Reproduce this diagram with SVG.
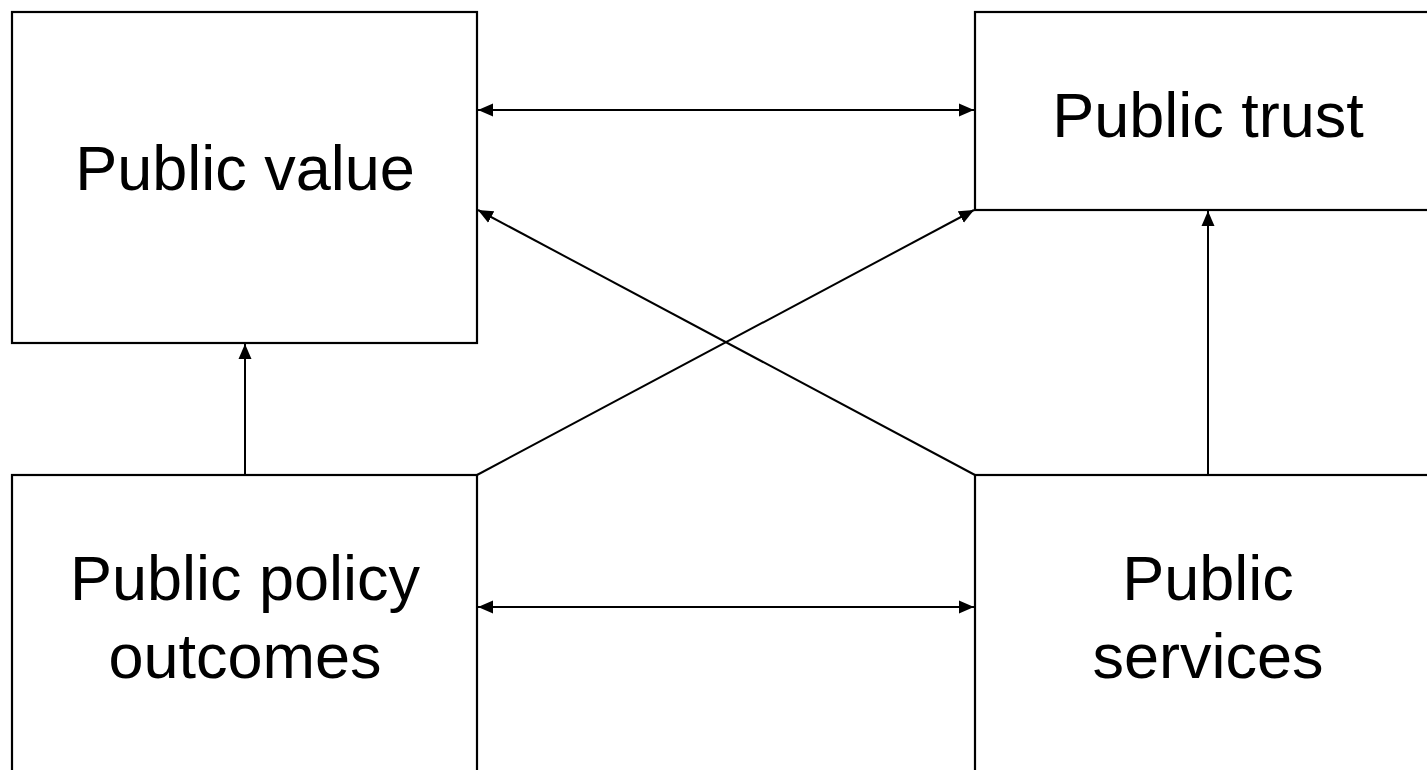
<svg xmlns="http://www.w3.org/2000/svg" width="1427" height="770" viewBox="0 0 1427 770">
<style>
.box{fill:#fff;stroke:#000;stroke-width:2.2}
.t{font-family:"Liberation Sans",Arial,sans-serif;font-size:63px;fill:#000;text-anchor:middle}
.c{stroke:#000;stroke-width:2;fill:none;marker-end:url(#ah)}
.d{marker-start:url(#ahs)}
</style>
<defs>
<marker id="ah" markerWidth="16" markerHeight="14" refX="15" refY="6.5" orient="auto" markerUnits="userSpaceOnUse" viewBox="0 0 16 13"><path d="M0,0 L15,6.5 L0,13 Z" fill="#000"/></marker>
<marker id="ahs" markerWidth="16" markerHeight="14" refX="0" refY="6.5" orient="auto" markerUnits="userSpaceOnUse" viewBox="0 0 16 13"><path d="M15,0 L0,6.5 L15,13 Z" fill="#000"/></marker>
</defs>
<rect width="1427" height="770" fill="#fff"/>
<g id="public-value"><rect class="box" x="12" y="12" width="465" height="331"/><text class="t" x="245" y="190">Public value</text></g>
<g id="public-trust"><rect class="box" x="975" y="12" width="460" height="198"/><text class="t" x="1208" y="137">Public trust</text></g>
<g id="public-policy-outcomes"><rect class="box" x="12" y="475" width="465" height="310"/><text class="t" x="245" y="600">Public policy</text><text class="t" x="245" y="678">outcomes</text></g>
<g id="public-services"><rect class="box" x="975" y="475" width="460" height="310"/><text class="t" x="1208" y="600">Public</text><text class="t" x="1208" y="678">services</text></g>
<g id="connectors">
<line class="c d" x1="478" y1="110" x2="974" y2="110"/>
<line class="c d" x1="478" y1="607" x2="974" y2="607"/>
<line class="c" x1="245" y1="475" x2="245" y2="344"/>
<line class="c" x1="1208" y1="475" x2="1208" y2="211"/>
<line class="c" x1="477" y1="475" x2="974" y2="210"/>
<line class="c" x1="975" y1="475" x2="478" y2="210"/>
</g>
</svg>
